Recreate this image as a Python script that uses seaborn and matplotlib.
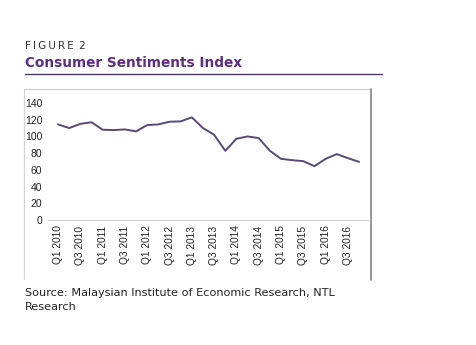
import matplotlib
matplotlib.use("Agg")
import matplotlib.pyplot as plt
from matplotlib.lines import Line2D
import seaborn as sns
import pandas as pd

quarters = [f"Q{q} {y}" for y in range(2010, 2017) for q in range(1, 5)]
index_values = [114.4, 110.0, 115.0, 117.0, 108.0, 107.6, 108.4, 106.0,
                113.6, 114.4, 117.6, 118.0, 122.8, 110.0, 102.0, 82.8,
                97.2, 100.0, 98.0, 82.8, 73.2, 71.6, 70.4, 64.4,
                73.2, 78.8, 74.0, 69.6]
y_ticks = [0, 20, 40, 60, 80, 100, 120, 140]

df = pd.DataFrame({"pos": range(len(quarters)), "quarter": quarters, "csi": index_values})

sns.set_theme(style="white")
plt.rcParams["font.family"] = ["DejaVu Sans"]

W, H = 477, 345
fig = plt.figure(figsize=(W / 100, H / 100), dpi=100)
fig.patch.set_facecolor("white")

def fx(px):
    return px / W

def fy(py):
    return 1 - py / H

ax = fig.add_axes([fx(48), fy(220), fx(368) - fx(48), fy(103) - fy(220)])
sns.lineplot(data=df, x="pos", y="csi", ax=ax, color="#594878", linewidth=1.4)

ax.set_xlim(-0.9, 27.8)
ax.set_ylim(0, 140)
ax.set_yticks(y_ticks)
ax.set_yticklabels([str(t) for t in y_ticks], fontsize=7.5, family="Liberation Sans", color="#222222")
ax.set_xticks(df["pos"][::2])
ax.set_xticklabels(df["quarter"][::2], rotation=90, fontsize=7.3, family="Liberation Sans", color="#222222")
ax.tick_params(axis="both", length=0, pad=4)
ax.set_xlabel("")
ax.set_ylabel("")
for side in ["top", "right", "left"]:
    ax.spines[side].set_visible(False)
ax.spines["bottom"].set_color("#cfcfcf")
ax.spines["bottom"].set_linewidth(0.8)
ax.patch.set_alpha(0)

# chart frame
fig.add_artist(Line2D([fx(24), fx(371)], [fy(89), fy(89)], color="#c8c8c8", lw=0.8))
fig.add_artist(Line2D([fx(24), fx(24)], [fy(89), fy(279)], color="#d4d4d4", lw=0.8))
fig.add_artist(Line2D([fx(371), fx(371)], [fy(89), fy(280)], color="#8f8f8f", lw=1.3))

# heading
fig.text(fx(25), fy(49), "F\u2009I\u2009G\u2009U\u2009R\u2009E\u2009 2", fontsize=7.5,
         color="#333333", ha="left", va="baseline")
fig.text(fx(25), fy(67), "Consumer Sentiments Index", fontsize=9.8, fontweight="bold",
         color="#5c2d82", ha="left", va="baseline")
fig.add_artist(Line2D([fx(25), fx(382)], [fy(73.5), fy(73.5)], color="#4a3a5e", lw=1.0))

# source note
fig.text(fx(25), fy(296), "Source: Malaysian Institute of Economic Research, NTL", fontsize=8.15,
         color="#222222", ha="left", va="baseline")
fig.text(fx(25), fy(310), "Research", fontsize=8.15, color="#222222", ha="left", va="baseline")

fig.savefig("out.png", dpi=100)
